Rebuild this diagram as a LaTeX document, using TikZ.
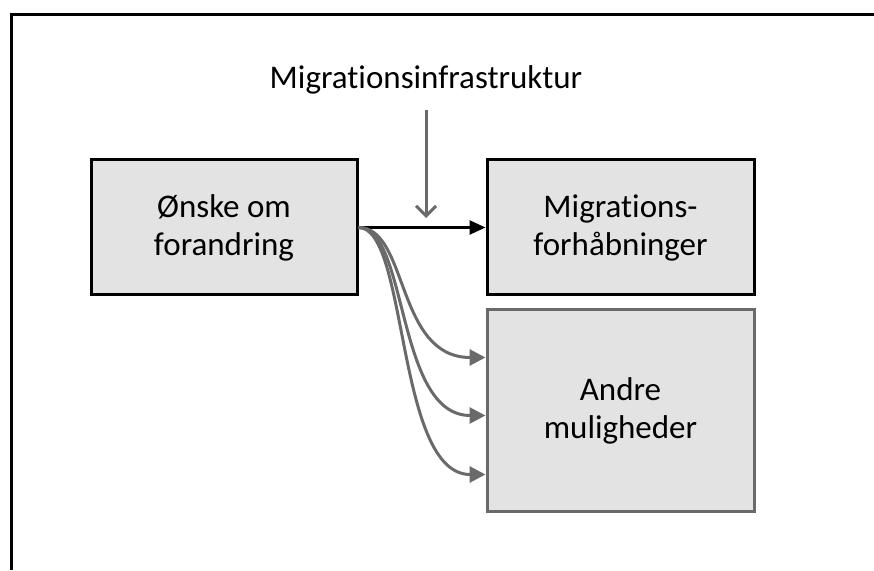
\documentclass[tikz,border=0pt]{standalone}
\usepackage{fontspec}
\setmainfont{Carlito}[Ligatures={NoCommon}]
\usetikzlibrary{calc, arrows.meta}

\definecolor{boxfill}{HTML}{E3E3E3}
\definecolor{linegray}{HTML}{6A6A6A}

\tikzset{
    stage/.style={draw=black, line width=3pt, fill=boxfill, align=center,
        inner sep=0pt, font=\fontsize{33}{38}\selectfont},
    mainarrow/.style={line width=2.5pt, -{Triangle[length=16pt, width=14pt]}},
    altarrow/.style={draw=linegray, line width=3pt, -{Triangle[length=16pt, width=16pt]}},
    infraarrow/.style={draw=linegray, line width=3pt, -{Straight Barb[length=10pt, width=20pt]}}
}

\begin{document}
\begin{tikzpicture}[x=1pt, y=1pt]
    \useasboundingbox (0,0) rectangle (874,570);

    % frame (top and left only)
    \draw[line width=3pt] (874,555) -- (11,555) -- (11,0);

    \node[stage, minimum width=266pt, minimum height=135pt] (onske) at (224,342.5)
        {Ønske om\\forandring};
    \node[stage, minimum width=267pt, minimum height=135pt] (haab) at (620.5,342.5)
        {Migrations-\\forhåbninger};
    \node[stage, draw=linegray, minimum width=267pt, minimum height=201pt] (andre) at (620.5,159.5)
        {Andre\\muligheder};

    \node[font=\fontsize{33}{38}\selectfont] (infra) at (426,490) {Migrationsinfrastruktur};
    \coordinate (infratop) at (426,460);
    \coordinate (infrabot) at (426,352);

    \draw[infraarrow] (infratop) -- (infrabot);
    \draw[mainarrow] (onske.east) -- (haab.west);

    \foreach \dy in {49, 107, 166}
        \draw[altarrow] (onske.east) .. controls +(50,0) and +(-90,0)
            .. ($(andre.north west)+(0,-\dy)$);
\end{tikzpicture}
\end{document}
